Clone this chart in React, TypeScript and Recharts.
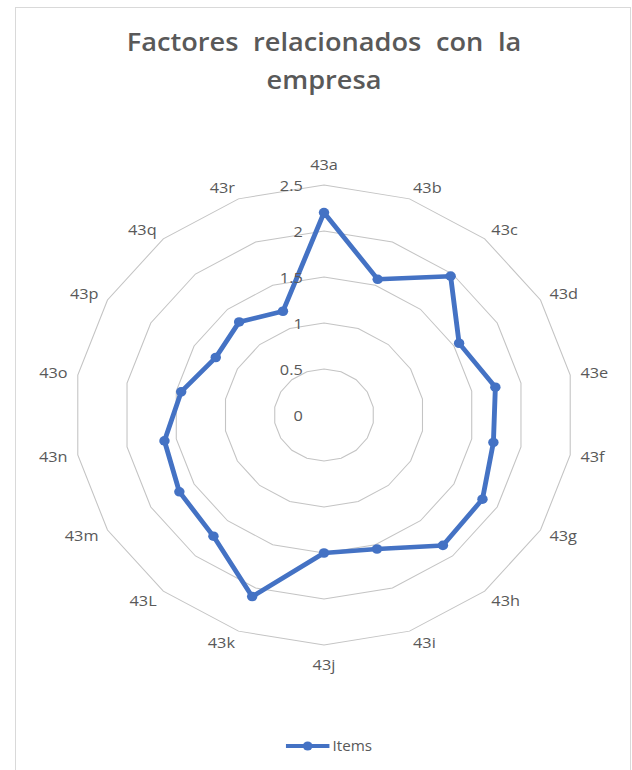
import React from 'react';
import { RadarChart, Radar, PolarGrid, PolarAngleAxis, PolarRadiusAxis } from 'recharts';

const categories = ['43a', '43b', '43c', '43d', '43e', '43f', '43g', '43h', '43i', '43j', '43k', '43L', '43m', '43n', '43o', '43p', '43q', '43r'];
const itemsValues = [2.2, 1.57, 1.97, 1.56, 1.74, 1.72, 1.83, 1.85, 1.55, 1.5, 2.1, 1.72, 1.67, 1.62, 1.45, 1.25, 1.32, 1.2];
const radiusTicks = [0, 0.5, 1, 1.5, 2, 2.5];
const seriesName = 'Items';
const titleLines = ['Factores relacionados con la', 'empresa'];

const data = categories.map((c, i) => ({ name: c, Items: itemsValues[i] }));

const W = 632;
const H = 770;
const CX = 324;
const CY = 415;
const R = 230; // radius of the outermost (2.5) ring
const AXIS_MAX = 3; // radius scale domain max (Recharts rounds the radial domain to whole numbers)
const TOP_TICK = radiusTicks[radiusTicks.length - 1];
const OUTER = (R * AXIS_MAX) / TOP_TICK;
const SX = 1.087;
const BLUE = '#4472C4';
const TXT = '#595959';
const FONT = '"Open Sans", sans-serif';

const AngleTick = (props: any) => {
  const { x, y, payload } = props;
  const dx = x - CX;
  const dy = y - CY;
  const d = Math.hypot(dx, dy) || 1;
  const ux = dx / d;
  const uy = dy / d;
  const vx = CX + ux * R;
  const vy = CY + uy * R;
  let anchor: 'start' | 'middle' | 'end' = 'middle';
  if (ux > 0.1) anchor = 'start';
  else if (ux < -0.1) anchor = 'end';
  let tx: number;
  let ty: number;
  if (anchor === 'middle') {
    tx = vx;
    ty = vy + uy * 20;
  } else {
    tx = vx + ux * 9.5;
    ty = vy + uy * 12;
  }
  return (
    <text x={tx} y={ty} dy="0.35em" textAnchor={anchor} fill={TXT} fontSize={15} fontFamily={FONT}>
      {payload.value}
    </text>
  );
};

const RadiusTick = (props: any) => {
  const { x, y, payload } = props;
  return (
    <text x={x - 19.5} y={y + 1} dy="0.35em" textAnchor="end" fill={TXT} fontSize={15} fontFamily={FONT}>
      {payload.value}
    </text>
  );
};

const SeriesDot = (props: any) => {
  const { cx, cy, index } = props;
  return <circle key={`dot-${index}`} cx={cx} cy={cy} r={4.8} fill={BLUE} stroke="none" />;
};

export default function App() {
  return (
    <div style={{ position: 'absolute', left: 0, top: 0, width: W, height: H, overflow: 'hidden', background: '#fff' }}>
      <div
        style={{
          position: 'absolute',
          left: 15,
          top: 7,
          width: 616,
          height: 800,
          border: '1px solid #d9d9d9',
          boxSizing: 'border-box',
        }}
      />
      <div
        style={{
          position: 'absolute',
          left: 0,
          top: 0,
          width: W,
          height: H,
          transform: `scaleX(${SX})`,
          transformOrigin: `${CX}px 0px`,
        }}
      >
        <div
          style={{
            position: 'absolute',
            left: 0,
            top: 22,
            width: CX * 2,
            textAlign: 'center',
            fontFamily: FONT,
            fontWeight: 600,
            fontSize: 25,
            lineHeight: '38px',
            color: TXT,
            wordSpacing: 7,
          }}
        >
          {titleLines.map((l) => (
            <div key={l}>{l}</div>
          ))}
        </div>
        <div style={{ position: 'absolute', left: 0, top: 0 }}>
          <RadarChart
            width={W}
            height={H}
            data={data}
            cx={CX}
            cy={CY}
            outerRadius={OUTER}
            startAngle={90}
            endAngle={-270}
            margin={{ top: 0, right: 0, bottom: 0, left: 0 }}
          >
            <PolarGrid gridType="polygon" radialLines={false} stroke="#c4c4c4" strokeWidth={1} />
            <PolarAngleAxis dataKey="name" tick={AngleTick} tickLine={false} axisLine={false} />
            <PolarRadiusAxis
              angle={90}
              domain={[0, AXIS_MAX]}
              ticks={radiusTicks}
              type="number"
              axisLine={false}
              tickLine={false}
              tick={RadiusTick}
            />
            <Radar
              name={seriesName}
              dataKey="Items"
              stroke={BLUE}
              strokeWidth={4.5}
              strokeLinejoin="round"
              fill="none"
              dot={SeriesDot}
              isAnimationActive={false}
            />
          </RadarChart>
        </div>
        <div
          style={{
            position: 'absolute',
            left: 0,
            top: 736,
            width: CX * 2,
            display: 'flex',
            justifyContent: 'center',
            alignItems: 'center',
            paddingLeft: 8,
            boxSizing: 'border-box',
          }}
        >
          <svg width={42} height={12} style={{ display: 'block' }}>
            <line x1={1} y1={6} x2={41} y2={6} stroke={BLUE} strokeWidth={4} />
            <circle cx={21} cy={6} r={4.5} fill={BLUE} />
          </svg>
          <span style={{ fontFamily: FONT, fontSize: 14, color: TXT, marginLeft: 2 }}>{seriesName}</span>
        </div>
      </div>
    </div>
  );
}
